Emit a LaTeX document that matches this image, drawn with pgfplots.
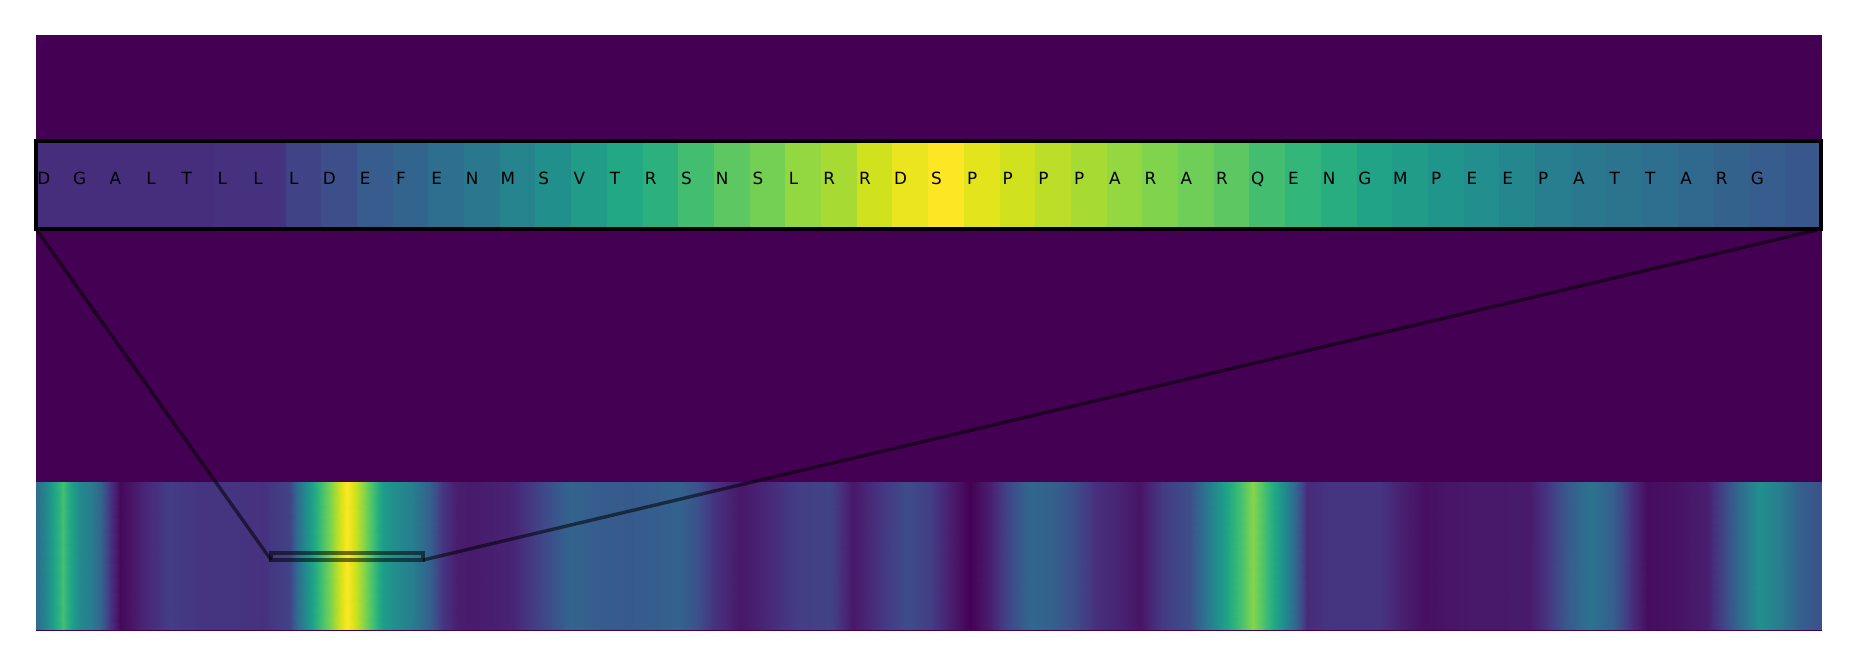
\documentclass[border=0pt]{standalone}
\usepackage{pgfplots}
\pgfplotsset{compat=1.18}
\usepackage{fontspec}
\setmainfont{DejaVu Sans}
\definecolor{vir0}{RGB}{68,1,84}
\begin{document}
\begin{tikzpicture}
\useasboundingbox (0,0) rectangle (928.5pt,333.5pt);
\pgfplotsset{base/.style={scale only axis, width=892.5pt, height=297.25pt,
  at={(18pt,18.5pt)}, anchor=south west, hide axis, view={0}{90},
  colormap/viridis, point meta min=0, point meta max=1,
  ymin=0, ymax=594.5, zmin=-1, zmax=1, clip=false}}
% ---------------- full sequence axis ----------------
\begin{axis}[base, xmin=0, xmax=587]
% background (value 0)
\addplot3[surf, shader=flat, draw=none, point meta=explicit] table[x index=0, y index=1, z expr=0, meta index=2, header=false] {
0 0 0
0 594.5 0

587 0 0
587 594.5 0
};
% bottom strip
\addplot3[surf, shader=interp, draw=none, point meta=explicit] table[x index=0, y index=1, z expr=0, meta index=2, header=false] {
0 0 .35
0 148 .35

3.0 0 .45
3.0 148 .45

6.0 0 .58
6.0 148 .58

8.9 0 .70
8.9 148 .70

11.5 0 .58
11.5 148 .58

14.5 0 .47
14.5 148 .47

18.0 0 .42
18.0 148 .42

21.0 0 .33
21.0 148 .33

24.3 0 .15
24.3 148 .15

27.6 0 .02
27.6 148 .02

30.9 0 .05
30.9 148 .05

35.2 0 .10
35.2 148 .10

39.8 0 .14
39.8 148 .14

44.1 0 .18
44.1 148 .18

49.7 0 .16
49.7 148 .16

54.9 0 .15
54.9 148 .15

63.8 0 .15
63.8 148 .15

74.6 0 .14
74.6 148 .14

83.5 0 .20
83.5 148 .20

85.8 0 .35
85.8 148 .35

89.1 0 .50
89.1 148 .50

93.4 0 .68
93.4 148 .68

96.7 0 .80
96.7 148 .80

100.0 0 .93
100.0 148 .93

102.3 0 1.00
102.3 148 1.00

104.9 0 .93
104.9 148 .93

107.5 0 .83
107.5 148 .83

110.8 0 .70
110.8 148 .70

114.1 0 .55
114.1 148 .55

118.7 0 .48
118.7 148 .48

124.0 0 .42
124.0 148 .42

129.6 0 .30
129.6 148 .30

133.8 0 .15
133.8 148 .15

138.4 0 .08
138.4 148 .08

143.7 0 .07
143.7 148 .07

156.9 0 .10
156.9 148 .10

165.7 0 .20
165.7 148 .20

175.6 0 .32
175.6 148 .32

184.5 0 .29
184.5 148 .29

195.3 0 .28
195.3 148 .28

211.8 0 .31
211.8 148 .31

217.4 0 .25
217.4 148 .25

222.6 0 .15
222.6 148 .15

231.5 0 .06
231.5 148 .06

239.1 0 .10
239.1 148 .10

250.2 0 .18
250.2 148 .18

261.1 0 .20
261.1 148 .20

268.7 0 .06
268.7 148 .06

277.5 0 .15
277.5 148 .15

286.4 0 .23
286.4 148 .23

294.0 0 .18
294.0 148 .18

300.6 0 .08
300.6 148 .08

307.1 0 .00
307.1 148 .00

313.7 0 .08
313.7 148 .08

320.3 0 .22
320.3 148 .22

326.9 0 .33
326.9 148 .33

333.4 0 .31
333.4 148 .31

340.0 0 .25
340.0 148 .25

348.9 0 .13
348.9 148 .13

355.5 0 .10
355.5 148 .10

363.0 0 .05
363.0 148 .05

370.6 0 .17
370.6 148 .17

379.5 0 .24
379.5 148 .24

385.1 0 .40
385.1 148 .40

390.3 0 .55
390.3 148 .55

395.9 0 .70
395.9 148 .70

400.2 0 .82
400.2 148 .82

404.8 0 .68
404.8 148 .68

410.1 0 .50
410.1 148 .50

414.7 0 .30
414.7 148 .30

417.9 0 .12
417.9 148 .12

425.5 0 .15
425.5 148 .15

442.0 0 .15
442.0 148 .15

448.5 0 .09
448.5 148 .09

456.1 0 .04
456.1 148 .04

469.2 0 .06
469.2 148 .06

491.3 0 .07
491.3 148 .07

496.9 0 .15
496.9 148 .15

503.4 0 .28
503.4 148 .28

511.0 0 .38
511.0 148 .38

518.6 0 .30
518.6 148 .30

525.1 0 .12
525.1 148 .12

529.7 0 .03
529.7 148 .03

540.6 0 .05
540.6 148 .05

549.4 0 .08
549.4 148 .08

554.7 0 .20
554.7 148 .20

560.3 0 .35
560.3 148 .35

566.9 0 .50
566.9 148 .50

573.5 0 .42
573.5 148 .42

580.1 0 .30
580.1 148 .30

587.0 0 .25
587.0 148 .25
};
% inset box on the full sequence
\addplot3[draw=black, draw opacity=0.55, line width=1.8pt, line cap=rect, mark=none]
  coordinates {(77.3,70,0) (127.3,70,0) (127.3,77,0) (77.3,77,0) (77.3,70,0)};
% connector lines
\addplot3[draw=black, draw opacity=0.55, line width=1.7pt, mark=none]
  coordinates {(0,401,0) (77.3,70,0)};
\addplot3[draw=black, draw opacity=0.55, line width=1.7pt, mark=none]
  coordinates {(587,401,0) (127.3,70,0)};
\end{axis}
% ---------------- zoomed window axis ----------------
\begin{axis}[base, xmin=0, xmax=50]
\addplot3[surf, shader=flat corner, draw=none, point meta=explicit] table[x index=0, y index=1, z expr=0, meta index=2, header=false] {
0 401 .13
0 489 .13

1 401 .13
1 489 .13

2 401 .13
2 489 .13

3 401 .13
3 489 .13

4 401 .13
4 489 .13

5 401 .14
5 489 .14

6 401 .14
6 489 .14

7 401 .20
7 489 .20

8 401 .24
8 489 .24

9 401 .29
9 489 .29

10 401 .32
10 489 .32

11 401 .36
11 489 .36

12 401 .40
12 489 .40

13 401 .45
13 489 .45

14 401 .50
14 489 .50

15 401 .55
15 489 .55

16 401 .60
16 489 .60

17 401 .64
17 489 .64

18 401 .70
18 489 .70

19 401 .75
19 489 .75

20 401 .79
20 489 .79

21 401 .84
21 489 .84

22 401 .87
22 489 .87

23 401 .93
23 489 .93

24 401 .97
24 489 .97

25 401 1.00
25 489 1.00

26 401 .96
26 489 .96

27 401 .93
27 489 .93

28 401 .90
28 489 .90

29 401 .87
29 489 .87

30 401 .84
30 489 .84

31 401 .81
31 489 .81

32 401 .78
32 489 .78

33 401 .75
33 489 .75

34 401 .70
34 489 .70

35 401 .66
35 489 .66

36 401 .62
36 489 .62

37 401 .58
37 489 .58

38 401 .55
38 489 .55

39 401 .52
39 489 .52

40 401 .49
40 489 .49

41 401 .46
41 489 .46

42 401 .42
42 489 .42

43 401 .40
43 489 .40

44 401 .38
44 489 .38

45 401 .36
45 489 .36

46 401 .34
46 489 .34

47 401 .31
47 489 .31

48 401 .29
48 489 .29

49 401 .27
49 489 .27

50 401 .27
50 489 .27
};
\addplot3[draw=black, line width=1.8pt, line cap=rect, mark=none]
  coordinates {(0,401,0) (50,401,0) (50,489,0) (0,489,0) (0,401,0)};
\tikzset{lt/.style={anchor=base, inner sep=0pt, font=\fontsize{8.4}{10}\selectfont, text=black}}
\node[lt] at (axis cs:0.22,445,0) {D};
\node[lt] at (axis cs:1.22,445,0) {G};
\node[lt] at (axis cs:2.22,445,0) {A};
\node[lt] at (axis cs:3.22,445,0) {L};
\node[lt] at (axis cs:4.22,445,0) {T};
\node[lt] at (axis cs:5.22,445,0) {L};
\node[lt] at (axis cs:6.22,445,0) {L};
\node[lt] at (axis cs:7.22,445,0) {L};
\node[lt] at (axis cs:8.22,445,0) {D};
\node[lt] at (axis cs:9.22,445,0) {E};
\node[lt] at (axis cs:10.22,445,0) {F};
\node[lt] at (axis cs:11.22,445,0) {E};
\node[lt] at (axis cs:12.22,445,0) {N};
\node[lt] at (axis cs:13.22,445,0) {M};
\node[lt] at (axis cs:14.22,445,0) {S};
\node[lt] at (axis cs:15.22,445,0) {V};
\node[lt] at (axis cs:16.22,445,0) {T};
\node[lt] at (axis cs:17.22,445,0) {R};
\node[lt] at (axis cs:18.22,445,0) {S};
\node[lt] at (axis cs:19.22,445,0) {N};
\node[lt] at (axis cs:20.22,445,0) {S};
\node[lt] at (axis cs:21.22,445,0) {L};
\node[lt] at (axis cs:22.22,445,0) {R};
\node[lt] at (axis cs:23.22,445,0) {R};
\node[lt] at (axis cs:24.22,445,0) {D};
\node[lt] at (axis cs:25.22,445,0) {S};
\node[lt] at (axis cs:26.22,445,0) {P};
\node[lt] at (axis cs:27.22,445,0) {P};
\node[lt] at (axis cs:28.22,445,0) {P};
\node[lt] at (axis cs:29.22,445,0) {P};
\node[lt] at (axis cs:30.22,445,0) {A};
\node[lt] at (axis cs:31.22,445,0) {R};
\node[lt] at (axis cs:32.22,445,0) {A};
\node[lt] at (axis cs:33.22,445,0) {R};
\node[lt] at (axis cs:34.22,445,0) {Q};
\node[lt] at (axis cs:35.22,445,0) {E};
\node[lt] at (axis cs:36.22,445,0) {N};
\node[lt] at (axis cs:37.22,445,0) {G};
\node[lt] at (axis cs:38.22,445,0) {M};
\node[lt] at (axis cs:39.22,445,0) {P};
\node[lt] at (axis cs:40.22,445,0) {E};
\node[lt] at (axis cs:41.22,445,0) {E};
\node[lt] at (axis cs:42.22,445,0) {P};
\node[lt] at (axis cs:43.22,445,0) {A};
\node[lt] at (axis cs:44.22,445,0) {T};
\node[lt] at (axis cs:45.22,445,0) {T};
\node[lt] at (axis cs:46.22,445,0) {A};
\node[lt] at (axis cs:47.22,445,0) {R};
\node[lt] at (axis cs:48.22,445,0) {G};
\end{axis}
\end{tikzpicture}
\end{document}
